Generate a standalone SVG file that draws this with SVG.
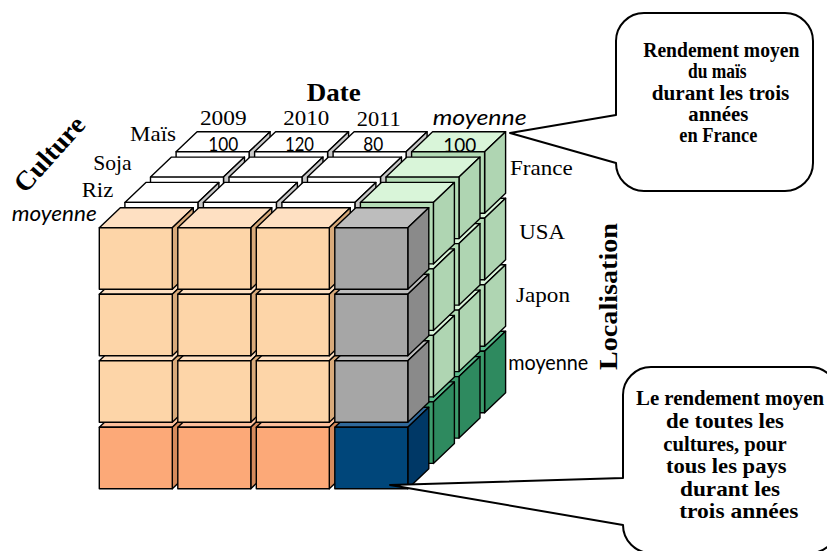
<svg xmlns="http://www.w3.org/2000/svg" xmlns:xlink="http://www.w3.org/1999/xlink" width="827" height="551" viewBox="0 0 827 551">
<style>
.f{fill:var(--f,#fff)}
.t{fill:var(--t,#fff)}
.s{fill:var(--s,#ccc)}
.e{stroke:#000;stroke-width:1.4;stroke-linejoin:round}
.white{--f:#ffffff;--t:#ffffff;--s:#c8c8c8}
.green{--f:#b4dcb6;--t:#d9f5d9;--s:#afd5b2}
.dgreen{--f:#3c9c6c;--t:#5cbb8c;--s:#2e8a5f}
.peach{--f:#fdd5a8;--t:#fee0c2;--s:#d8aa7a}
.orange{--f:#fca978;--t:#fdc09c;--s:#d58a5c}
.gray{--f:#a6a6a6;--t:#bdbdbd;--s:#8a8a8a}
.navy{--f:#00467a;--t:#30699a;--s:#003866}
.serif{font-family:"Liberation Serif","Times New Roman",serif;fill:#000}
.sans{font-family:Lato,"Liberation Sans",sans-serif;fill:#000}
.lbl{font-size:22px}
.bold{font-weight:bold}
.it{font-style:italic}
.mid{text-anchor:middle}
.callout{fill:#fff;stroke:#000;stroke-width:2;stroke-linejoin:round}
</style>
<defs>
<g id="cube">
<path class="t e" d="M0 0 L21 -20 H94 L73 0 Z"/>
<path class="s e" d="M73 0 L94 -20 V41.5 L73 61.5 Z"/>
<rect class="f e" width="73" height="61.5"/>
</g>
</defs>
<rect width="827" height="551" fill="#fff"/>
<g id="cube-3d">
<g id="layer-mais">
<use xlink:href="#cube" class="dgreen" x="411.6" y="351.3"/>
<use xlink:href="#cube" class="green" x="411.6" y="284.8"/>
<use xlink:href="#cube" class="green" x="411.6" y="218.3"/>
<use xlink:href="#cube" class="white" x="176.1" y="151.8"/>
<use xlink:href="#cube" class="white" x="254.6" y="151.8"/>
<use xlink:href="#cube" class="white" x="333.1" y="151.8"/>
<use xlink:href="#cube" class="green" x="411.6" y="151.8"/>
</g>
<g id="layer-soja">
<use xlink:href="#cube" class="dgreen" x="386" y="376.6"/>
<use xlink:href="#cube" class="green" x="386" y="310.1"/>
<use xlink:href="#cube" class="green" x="386" y="243.6"/>
<use xlink:href="#cube" class="white" x="150.5" y="177.1"/>
<use xlink:href="#cube" class="white" x="229" y="177.1"/>
<use xlink:href="#cube" class="white" x="307.5" y="177.1"/>
<use xlink:href="#cube" class="green" x="386" y="177.1"/>
</g>
<g id="layer-riz">
<use xlink:href="#cube" class="dgreen" x="360.4" y="401.9"/>
<use xlink:href="#cube" class="green" x="360.4" y="335.4"/>
<use xlink:href="#cube" class="green" x="360.4" y="268.9"/>
<use xlink:href="#cube" class="white" x="124.9" y="202.4"/>
<use xlink:href="#cube" class="white" x="203.4" y="202.4"/>
<use xlink:href="#cube" class="white" x="281.9" y="202.4"/>
<use xlink:href="#cube" class="green" x="360.4" y="202.4"/>
</g>
<g id="layer-moyenne">
<use xlink:href="#cube" class="orange" x="99.3" y="427.2"/>
<use xlink:href="#cube" class="orange" x="177.8" y="427.2"/>
<use xlink:href="#cube" class="orange" x="256.3" y="427.2"/>
<use xlink:href="#cube" class="navy" x="334.8" y="427.2"/>
<use xlink:href="#cube" class="peach" x="99.3" y="360.7"/>
<use xlink:href="#cube" class="peach" x="177.8" y="360.7"/>
<use xlink:href="#cube" class="peach" x="256.3" y="360.7"/>
<use xlink:href="#cube" class="gray" x="334.8" y="360.7"/>
<use xlink:href="#cube" class="peach" x="99.3" y="294.2"/>
<use xlink:href="#cube" class="peach" x="177.8" y="294.2"/>
<use xlink:href="#cube" class="peach" x="256.3" y="294.2"/>
<use xlink:href="#cube" class="gray" x="334.8" y="294.2"/>
<use xlink:href="#cube" class="peach" x="99.3" y="227.7"/>
<use xlink:href="#cube" class="peach" x="177.8" y="227.7"/>
<use xlink:href="#cube" class="peach" x="256.3" y="227.7"/>
<use xlink:href="#cube" class="gray" x="334.8" y="227.7"/>
</g>
</g>
<g id="values" class="sans mid" font-size="20">
<text x="223.3" y="150.5" textLength="30" lengthAdjust="spacingAndGlyphs">100</text>
<text x="299.5" y="150.5" textLength="29" lengthAdjust="spacingAndGlyphs">120</text>
<text x="373.2" y="150.5" textLength="20" lengthAdjust="spacingAndGlyphs">80</text>
<text x="459.8" y="151.5" textLength="33" lengthAdjust="spacingAndGlyphs">100</text>
</g>
<g id="axis-date">
<text class="serif bold mid" font-size="25" x="333.7" y="100.5" textLength="54" lengthAdjust="spacingAndGlyphs">Date</text>
<text class="serif lbl mid" x="223.3" y="125" textLength="46.7" lengthAdjust="spacingAndGlyphs">2009</text>
<text class="serif lbl mid" x="306.3" y="125" textLength="46" lengthAdjust="spacingAndGlyphs">2010</text>
<text class="serif lbl mid" x="378.7" y="125.5" textLength="44" lengthAdjust="spacingAndGlyphs">2011</text>
<text class="sans it mid" font-size="22" x="479.7" y="125" textLength="94" lengthAdjust="spacingAndGlyphs">moyenne</text>
</g>
<g id="axis-culture">
<text class="serif bold mid" font-size="27" x="56" y="160" transform="rotate(-48 56 160)" textLength="92" lengthAdjust="spacingAndGlyphs">Culture</text>
<text class="serif lbl mid" x="153" y="140.7" textLength="46" lengthAdjust="spacingAndGlyphs">Maïs</text>
<text class="serif lbl mid" x="112.5" y="170" textLength="38.4" lengthAdjust="spacingAndGlyphs">Soja</text>
<text class="serif lbl mid" x="97.5" y="196.7" textLength="31.6" lengthAdjust="spacingAndGlyphs">Riz</text>
<text class="sans it mid" font-size="22" x="54.2" y="221" textLength="85" lengthAdjust="spacingAndGlyphs">moyenne</text>
</g>
<g id="axis-localisation">
<text class="serif bold mid" font-size="26" x="617" y="296.5" transform="rotate(-90 617 296.5)" textLength="147" lengthAdjust="spacingAndGlyphs">Localisation</text>
<text class="serif lbl mid" x="541.3" y="175" textLength="62.7" lengthAdjust="spacingAndGlyphs">France</text>
<text class="serif lbl mid" x="542.2" y="239.3" textLength="45.7" lengthAdjust="spacingAndGlyphs">USA</text>
<text class="serif lbl mid" x="543" y="301.7" textLength="54" lengthAdjust="spacingAndGlyphs">Japon</text>
<text class="sans mid" font-size="21" x="548.3" y="370" textLength="80" lengthAdjust="spacingAndGlyphs">moyenne</text>
</g>
<g id="callout-france">
<path class="callout" d="M644 13 H785 A28 28 0 0 1 813 41 V163 A28 28 0 0 1 785 191 H644 A28 28 0 0 1 616 163 L510 133 L616 115 V41 A28 28 0 0 1 644 13 Z"/>
<g class="serif bold mid" font-size="20">
<text x="721.3" y="57" textLength="156" lengthAdjust="spacingAndGlyphs">Rendement moyen</text>
<text x="717.3" y="78.3" textLength="58.7" lengthAdjust="spacingAndGlyphs">du maïs</text>
<text x="720.5" y="99.6" textLength="137.6" lengthAdjust="spacingAndGlyphs">durant les trois</text>
<text x="718.3" y="120.9" textLength="60" lengthAdjust="spacingAndGlyphs">années</text>
<text x="718.3" y="142.2" textLength="78" lengthAdjust="spacingAndGlyphs">en France</text>
</g>
</g>
<g id="callout-total">
<path class="callout" d="M651 367 H810 A28 28 0 0 1 838 395 V525 A28 28 0 0 1 810 553 H651 A28 28 0 0 1 623 525 L390 485 L623 478 V395 A28 28 0 0 1 651 367 Z"/>
<g class="serif bold mid" font-size="21">
<text x="730" y="405" textLength="188" lengthAdjust="spacingAndGlyphs">Le rendement moyen</text>
<text x="725" y="428" textLength="118" lengthAdjust="spacingAndGlyphs">de toutes les</text>
<text x="725" y="450.5" textLength="123.3" lengthAdjust="spacingAndGlyphs">cultures, pour</text>
<text x="726.3" y="473" textLength="120.7" lengthAdjust="spacingAndGlyphs">tous les pays</text>
<text x="730" y="495.5" textLength="100" lengthAdjust="spacingAndGlyphs">durant les</text>
<text x="738.8" y="518" textLength="119" lengthAdjust="spacingAndGlyphs">trois années</text>
</g>
</g>
</svg>
